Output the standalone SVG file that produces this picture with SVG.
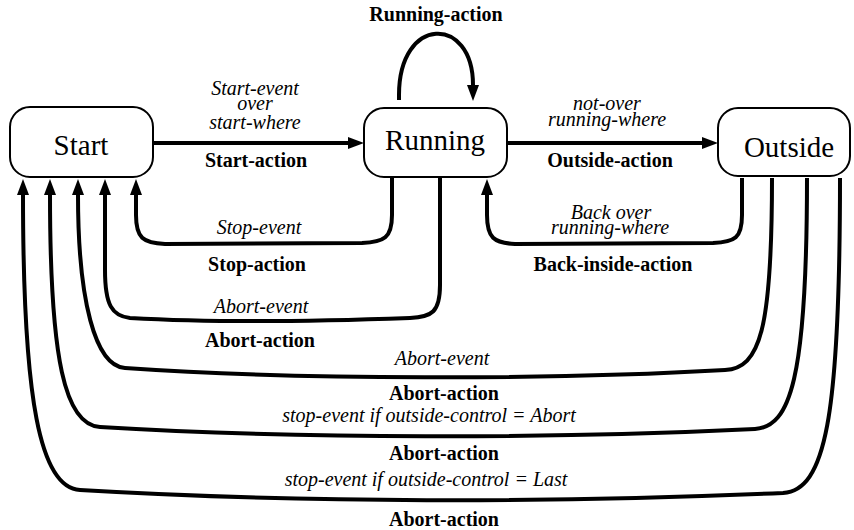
<svg xmlns="http://www.w3.org/2000/svg" width="854" height="530" viewBox="0 0 854 530">
<style>
.box{fill:#fff;stroke:#000;stroke-width:2}
text{font-family:'Liberation Serif','DejaVu Serif',serif;fill:#000;text-anchor:middle}
.nl{font-size:29px}
.ev{font-size:20px;font-style:italic}
.ac{font-size:20px;font-weight:bold}
.c{fill:none;stroke:#000;stroke-width:4;marker-end:url(#ah)}
</style>
<defs>
<marker id="ah" viewBox="0 0 16 12" refX="0" refY="6" markerWidth="16" markerHeight="12" markerUnits="userSpaceOnUse" orient="auto">
<path d="M0,0 L16,6 L0,12 z" fill="#000"/>
</marker>
</defs>
<rect width="854" height="530" fill="#fff"/>
<g id="connectors">
<path class="c" d="M153,143 L348,143"/>
<path class="c" d="M507,143 L702,143"/>
<path class="c" d="M399,100 L399,95 C399,15 473,15 473,85"/>
<path class="c" d="M392,178 L392,215 C392,238 384,242 362,243 L165,244 C143,243 136,238 136,215 L136,195"/>
<path class="c" d="M742,178 L742,215 C742,238 735,242 713,243 L515,244 C494,243 487,238 487,215 L487,195"/>
<path class="c" d="M440,178 L440,285 C440,312 432,317 410,318 C300,322 200,322 130,318 C112,316 105,305 105,270 L105,195"/>
<path class="c" d="M772,178 C772,330 760,368 725,370 C550,380 300,380 125,368 C95,366 78,300 78,195"/>
<path class="c" d="M807,178 C807,380 790,427 755,429 C550,439 300,439 100,427 C65,425 50,360 50,195"/>
<path class="c" d="M840,178 C840,420 825,490 783,493 C550,503 300,503 80,490 C40,488 23,400 23,195"/>
</g>
<g id="start">
<rect class="box" x="10" y="107" width="143" height="70" rx="20"/>
<text class="nl" x="81" y="155">Start</text>
</g>
<g id="running">
<rect class="box" x="364" y="108" width="143" height="69" rx="20"/>
<text class="nl" x="435" y="150">Running</text>
</g>
<g id="outside">
<rect class="box" x="718" y="108" width="132" height="68" rx="20"/>
<text class="nl" x="789" y="157">Outside</text>
</g>
<g id="labels">
<text class="ac" x="436" y="21">Running-action</text>
<text class="ev" x="255" y="95">Start-event</text>
<text class="ev" x="255" y="110">over</text>
<text class="ev" x="255" y="129">start-where</text>
<text class="ac" x="256" y="167">Start-action</text>
<text class="ev" x="607" y="110">not-over</text>
<text class="ev" x="607" y="126">running-where</text>
<text class="ac" x="610" y="167">Outside-action</text>
<text class="ev" x="259" y="234">Stop-event</text>
<text class="ac" x="257" y="271">Stop-action</text>
<text class="ev" x="611" y="219">Back over</text>
<text class="ev" x="610" y="234">running-where</text>
<text class="ac" x="613" y="271">Back-inside-action</text>
<text class="ev" x="261" y="313">Abort-event</text>
<text class="ac" x="260" y="347">Abort-action</text>
<text class="ev" x="442" y="365">Abort-event</text>
<text class="ac" x="444" y="400">Abort-action</text>
<text class="ev" x="429" y="422">stop-event if outside-control = Abort</text>
<text class="ac" x="444" y="460">Abort-action</text>
<text class="ev" x="426" y="486">stop-event if outside-control = Last</text>
<text class="ac" x="444" y="526">Abort-action</text>
</g>
</svg>
